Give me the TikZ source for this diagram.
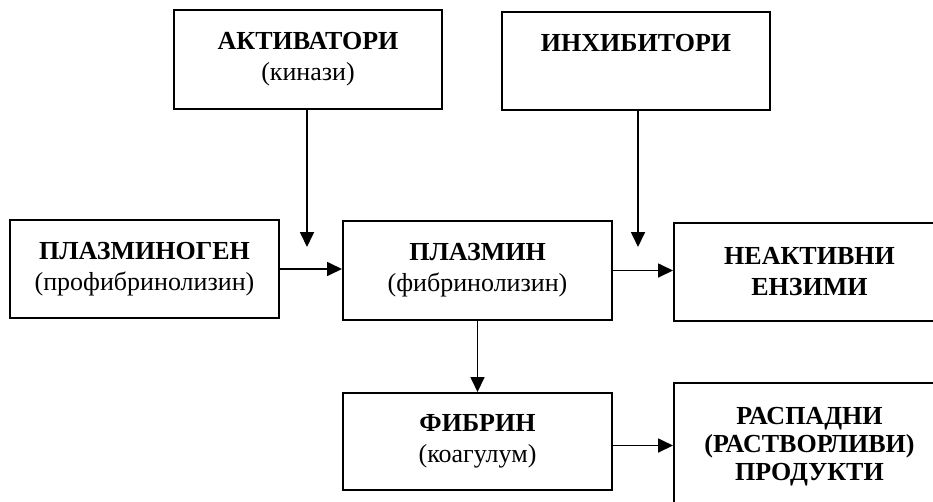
\documentclass[tikz,border=0pt]{standalone}
\usepackage{fontspec}
\setmainfont{Liberation Serif}
\usetikzlibrary{arrows.meta}
\tikzset{
  box/.style={draw, line width=2pt, align=center, inner sep=0pt,
    font=\fontsize{26}{31}\selectfont},
  arr/.style={line width=1.7pt, -{Triangle[length=15pt,width=14pt]}}
}
\begin{document}
\begin{tikzpicture}[x=1pt,y=-1pt]
\useasboundingbox (0,0) rectangle (933,501);
\begin{scope}
\clip (0,0) rectangle (933,501);
\node[box, minimum width=268pt, minimum height=99pt] (A) at (308,59.5) {\textbf{АКТИВАТОРИ}\\(кинази)};
\node[box, minimum width=268pt, minimum height=98pt] (I) at (636,61) {\textbf{ИНХИБИТОРИ}\\\phantom{(кинази)}};
\node[box, minimum width=269pt, minimum height=98pt] (PG) at (144.5,269) {\textbf{ПЛАЗМИНОГЕН}\\(профибринолизин)};
\node[box, minimum width=269pt, minimum height=99pt] (P) at (477.5,270.5) {\textbf{ПЛАЗМИН}\\(фибринолизин)};
\node[box, minimum width=271pt, minimum height=98pt] (NE) at (809.5,272) {\textbf{НЕАКТИВНИ}\\\textbf{ЕНЗИМИ}};
\node[box, minimum width=269pt, minimum height=97pt] (F) at (477.5,441.5) {\textbf{ФИБРИН}\\(коагулум)};
\node[box, minimum width=271pt, minimum height=127pt, font=\fontsize{26}{28}\selectfont] (R) at (809.5,446.5) {\textbf{РАСПАДНИ}\\\textbf{(РАСТВОРЛИВИ)}\\\textbf{ПРОДУКТИ}};
\end{scope}
\coordinate (aend) at (307,247);
\coordinate (iend) at (638,247);
\draw[arr] (A.south -| aend) -- (aend);
\draw[arr] (I.south -| iend) -- (iend);
\draw[arr] (PG.east) -- (PG.east -| P.west);
\draw[arr] (P.east) -- (P.east -| NE.west);
\draw[arr] (P.south) -- (F.north);
\draw[arr] ([yshift=-4pt]F.east) -- ([yshift=-4pt]F.east -| R.west);
\end{tikzpicture}
\end{document}
